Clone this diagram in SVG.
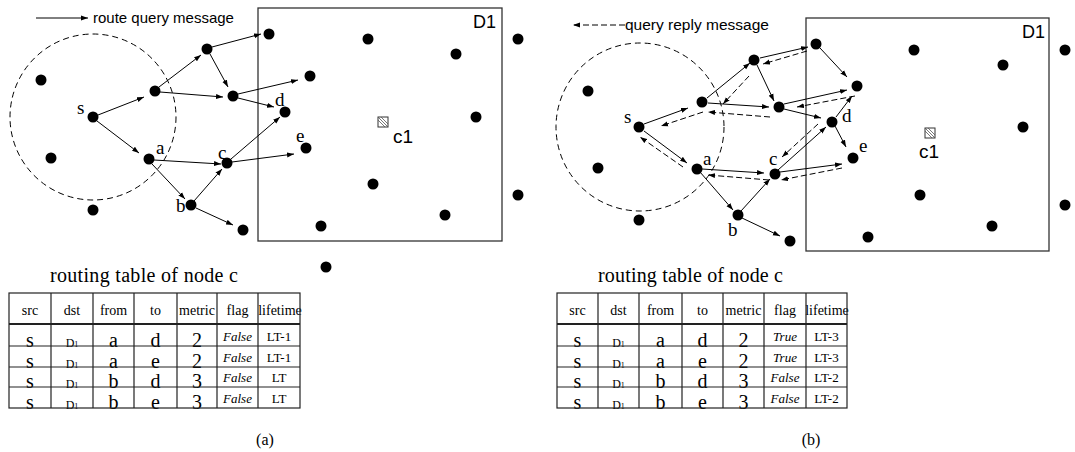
<svg xmlns="http://www.w3.org/2000/svg" width="1075" height="452" viewBox="0 0 1075 452">
<style>
.dot{fill:#000}
.arr{stroke:#000;stroke-width:1;fill:none;marker-end:url(#ah)}
.rep{stroke:#000;stroke-width:1;fill:none;stroke-dasharray:6,3;marker-end:url(#ah)}
.circ{stroke:#000;stroke-width:1;fill:none;stroke-dasharray:6,4}
.box{stroke:#333;stroke-width:1.3;fill:none}
.sans{font-family:"Liberation Sans",Arial,sans-serif;fill:#000}
.ser{font-family:"Liberation Serif","Times New Roman",serif;fill:#000}
.lbl{font-family:"Liberation Serif","Times New Roman",serif;font-size:19px;fill:#000}
.hd{font-family:"Liberation Serif","Times New Roman",serif;font-size:14px;text-anchor:middle;fill:#000}
.big{font-family:"Liberation Serif","Times New Roman",serif;font-size:20px;text-anchor:middle;fill:#000}
.dst{font-family:"Liberation Serif","Times New Roman",serif;font-size:12px;text-anchor:middle;fill:#000}
.it{font-family:"Liberation Serif","Times New Roman",serif;font-size:13px;font-style:italic;text-anchor:middle;fill:#000}
.sm{font-family:"Liberation Serif","Times New Roman",serif;font-size:13px;text-anchor:middle;fill:#000}
.tl{stroke:#222;stroke-width:1.2;fill:none}
</style>
<defs>
<marker id="ah" markerWidth="8" markerHeight="6" refX="7" refY="3" orient="auto" markerUnits="userSpaceOnUse">
<path d="M0,0.5 L7,3 L0,5.5 z" fill="#000"/>
</marker>
</defs>

<!-- ===== Panel (a) ===== -->
<g id="a-legend">
<line class="arr" x1="36" y1="18" x2="88" y2="18"/>
<text class="sans" x="93" y="23" font-size="15">route query message</text>
</g>
<g id="a-range"><circle class="circ" cx="93" cy="117" r="83"/></g>
<g id="a-D1">
<rect class="box" x="258" y="8" width="244" height="233"/>
<text class="sans" x="473" y="28" font-size="18">D1</text>
</g>
<g id="a-c1">
<rect x="378" y="117" width="10" height="10" fill="#fff" stroke="#333" stroke-width="1"/>
<path d="M378,120 L385,127 M378,117 L388,127 M381,117 L388,124" stroke="#555" stroke-width="0.8"/>
<text class="sans" x="393" y="143" font-size="19">c1</text>
</g>
<g id="a-connectors">
<line class="arr" x1="98" y1="115" x2="144" y2="97"/>
<line class="arr" x1="97" y1="121" x2="139" y2="153"/>
<line class="arr" x1="159" y1="87" x2="201" y2="55"/>
<line class="arr" x1="160" y1="92" x2="223" y2="97"/>
<line class="arr" x1="210" y1="54" x2="228" y2="87"/>
<line class="arr" x1="212" y1="47" x2="261" y2="34"/>
<line class="arr" x1="238" y1="94" x2="298" y2="80"/>
<line class="arr" x1="238" y1="98" x2="274" y2="107"/>
<line class="arr" x1="154" y1="160" x2="221" y2="164"/>
<line class="arr" x1="152" y1="164" x2="185" y2="199"/>
<line class="arr" x1="194" y1="201" x2="222" y2="169"/>
<line class="arr" x1="231" y1="159" x2="280" y2="117"/>
<line class="arr" x1="232" y1="162" x2="294" y2="154"/>
<line class="arr" x1="196" y1="208" x2="233" y2="225"/>
</g>
<g id="a-nodes">
<circle class="dot" cx="41" cy="80" r="5.5"/>
<circle class="dot" cx="93" cy="117" r="5.5"/>
<circle class="dot" cx="51" cy="158" r="5.5"/>
<circle class="dot" cx="93" cy="210" r="5.5"/>
<circle class="dot" cx="155" cy="91" r="5.5"/>
<circle class="dot" cx="207" cy="49" r="5.5"/>
<circle class="dot" cx="233" cy="96" r="5.5"/>
<circle class="dot" cx="149" cy="159" r="5.5"/>
<circle class="dot" cx="227" cy="163" r="5.5"/>
<circle class="dot" cx="191" cy="205" r="5.5"/>
<circle class="dot" cx="243" cy="230" r="5.5"/>
<circle class="dot" cx="269" cy="34" r="5.5"/>
<circle class="dot" cx="368" cy="39" r="5.5"/>
<circle class="dot" cx="456" cy="54" r="5.5"/>
<circle class="dot" cx="518" cy="39" r="5.5"/>
<circle class="dot" cx="310" cy="76" r="5.5"/>
<circle class="dot" cx="285" cy="112" r="5.5"/>
<circle class="dot" cx="476" cy="117" r="5.5"/>
<circle class="dot" cx="306" cy="148" r="5.5"/>
<circle class="dot" cx="373" cy="184" r="5.5"/>
<circle class="dot" cx="518" cy="195" r="5.5"/>
<circle class="dot" cx="445" cy="215" r="5.5"/>
<circle class="dot" cx="321" cy="226" r="5.5"/>
<circle class="dot" cx="326" cy="267" r="5.5"/>
</g>
<g id="a-labels">
<text class="lbl" x="77" y="114">s</text>
<text class="lbl" x="156" y="154">a</text>
<text class="lbl" x="218" y="159">c</text>
<text class="lbl" x="176" y="212">b</text>
<text class="lbl" x="275" y="106">d</text>
<text class="lbl" x="296" y="142">e</text>
</g>

<g id="a-table">
<text class="ser" x="50" y="282" font-size="20" textLength="188">routing table of node c</text>
<text class="hd" x="30" y="315">src</text>
<text class="hd" x="72" y="315">dst</text>
<text class="hd" x="113.5" y="315">from</text>
<text class="hd" x="155.5" y="315">to</text>
<text class="hd" x="197" y="315">metric</text>
<text class="hd" x="237.5" y="315">flag</text>
<text class="hd" x="280" y="315">lifetime</text>
<g>
<text class="big" x="30" y="347">s</text><text class="dst" x="72" y="347">D<tspan font-size="8">1</tspan></text><text class="big" x="113.5" y="347">a</text><text class="big" x="155.5" y="347">d</text><text class="big" x="197" y="347">2</text><text class="it" x="237.5" y="341">False</text><text class="sm" x="279" y="341">LT-1</text>
<text class="big" x="30" y="368">s</text><text class="dst" x="72" y="368">D<tspan font-size="8">1</tspan></text><text class="big" x="113.5" y="368">a</text><text class="big" x="155.5" y="368">e</text><text class="big" x="197" y="368">2</text><text class="it" x="237.5" y="362">False</text><text class="sm" x="279" y="362">LT-1</text>
<text class="big" x="30" y="388">s</text><text class="dst" x="72" y="388">D<tspan font-size="8">1</tspan></text><text class="big" x="113.5" y="388">b</text><text class="big" x="155.5" y="388">d</text><text class="big" x="197" y="388">3</text><text class="it" x="237.5" y="382">False</text><text class="sm" x="279" y="382">LT</text>
<text class="big" x="30" y="409">s</text><text class="dst" x="72" y="409">D<tspan font-size="8">1</tspan></text><text class="big" x="113.5" y="409">b</text><text class="big" x="155.5" y="409">e</text><text class="big" x="197" y="409">3</text><text class="it" x="237.5" y="403">False</text><text class="sm" x="279" y="403">LT</text>
</g>
<rect x="9" y="293" width="291" height="115" fill="none" stroke="#222" stroke-width="1.2"/>
<path class="tl" d="M9,346 H300 M9,367 H300 M9,387 H300 M51,293 V408 M93,293 V408 M134,293 V408 M177,293 V408 M217,293 V408 M258,293 V408"/>
<line x1="9" y1="324" x2="300" y2="324" stroke="#222" stroke-width="2.2"/>
<text class="ser" x="265" y="445" font-size="16" text-anchor="middle">(a)</text>
</g>

<!-- ===== Panel (b) ===== -->
<g id="b-legend">
<line class="rep" x1="625" y1="25" x2="573" y2="25"/>
<text class="sans" x="625" y="30" font-size="15.5">query reply message</text>
</g>
<g id="b-range"><circle class="circ" cx="640" cy="127" r="84"/></g>
<g id="b-D1">
<rect class="box" x="806" y="18" width="243" height="233"/>
<text class="sans" x="1022" y="38" font-size="18">D1</text>
</g>
<g id="b-c1">
<rect x="925" y="128" width="10" height="10" fill="#fff" stroke="#333" stroke-width="1"/>
<path d="M925,131 L932,138 M925,128 L935,138 M928,128 L935,135" stroke="#555" stroke-width="0.8"/>
<text class="sans" x="919" y="158" font-size="19">c1</text>
</g>
<g id="b-connectors">
<line class="arr" x1="644" y1="124" x2="688" y2="108"/>
<line class="arr" x1="644" y1="131" x2="687" y2="163"/>
<line class="arr" x1="707" y1="98" x2="750" y2="63"/>
<line class="arr" x1="708" y1="103" x2="769" y2="107"/>
<line class="arr" x1="757" y1="65" x2="774" y2="101"/>
<line class="arr" x1="760" y1="58" x2="808" y2="47"/>
<line class="arr" x1="820" y1="48" x2="847" y2="77"/>
<line class="arr" x1="784" y1="104" x2="847" y2="90"/>
<line class="arr" x1="784" y1="109" x2="821" y2="118"/>
<line class="arr" x1="836" y1="117" x2="852" y2="96"/>
<line class="arr" x1="835" y1="126" x2="846" y2="147"/>
<line class="arr" x1="702" y1="169" x2="764" y2="173"/>
<line class="arr" x1="700" y1="172" x2="733" y2="210"/>
<line class="arr" x1="741" y1="211" x2="770" y2="179"/>
<line class="arr" x1="778" y1="170" x2="826" y2="127"/>
<line class="arr" x1="780" y1="172" x2="842" y2="164"/>
<line class="arr" x1="742" y1="218" x2="780" y2="236"/>
<line class="rep" x1="703" y1="112" x2="661" y2="126"/>
<line class="rep" x1="683" y1="167" x2="640" y2="137"/>
<line class="rep" x1="749" y1="76" x2="723" y2="104"/>
<line class="rep" x1="807" y1="51" x2="763" y2="64"/>
<line class="rep" x1="855" y1="96" x2="797" y2="107"/>
<line class="rep" x1="770" y1="117" x2="708" y2="112"/>
<line class="rep" x1="818" y1="124" x2="782" y2="157"/>
<line class="rep" x1="769" y1="180" x2="708" y2="175"/>
<line class="rep" x1="842" y1="168" x2="781" y2="180"/>
</g>
<g id="b-nodes">
<circle class="dot" cx="588" cy="91" r="5.5"/>
<circle class="dot" cx="639" cy="127" r="5.5"/>
<circle class="dot" cx="598" cy="168" r="5.5"/>
<circle class="dot" cx="639" cy="220" r="5.5"/>
<circle class="dot" cx="702" cy="102" r="5.5"/>
<circle class="dot" cx="754" cy="60" r="5.5"/>
<circle class="dot" cx="779" cy="107" r="5.5"/>
<circle class="dot" cx="697" cy="169" r="5.5"/>
<circle class="dot" cx="775" cy="174" r="5.5"/>
<circle class="dot" cx="738" cy="215" r="5.5"/>
<circle class="dot" cx="790" cy="241" r="5.5"/>
<circle class="dot" cx="816" cy="44" r="5.5"/>
<circle class="dot" cx="857" cy="86" r="5.5"/>
<circle class="dot" cx="832" cy="122" r="5.5"/>
<circle class="dot" cx="853" cy="158" r="5.5"/>
<circle class="dot" cx="868" cy="237" r="5.5"/>
<circle class="dot" cx="914" cy="50" r="5.5"/>
<circle class="dot" cx="1003" cy="65" r="5.5"/>
<circle class="dot" cx="1065" cy="50" r="5.5"/>
<circle class="dot" cx="1023" cy="127" r="5.5"/>
<circle class="dot" cx="920" cy="195" r="5.5"/>
<circle class="dot" cx="1065" cy="205" r="5.5"/>
<circle class="dot" cx="992" cy="226" r="5.5"/>
</g>
<g id="b-labels">
<text class="lbl" x="624" y="123">s</text>
<text class="lbl" x="703" y="165">a</text>
<text class="lbl" x="769" y="165">c</text>
<text class="lbl" x="728" y="236">b</text>
<text class="lbl" x="842" y="122">d</text>
<text class="lbl" x="859" y="152">e</text>
</g>

<g id="b-table">
<text class="ser" x="598" y="282" font-size="20" textLength="185">routing table of node c</text>
<text class="hd" x="577.5" y="315">src</text>
<text class="hd" x="618.5" y="315">dst</text>
<text class="hd" x="660.5" y="315">from</text>
<text class="hd" x="702.5" y="315">to</text>
<text class="hd" x="743.5" y="315">metric</text>
<text class="hd" x="785" y="315">flag</text>
<text class="hd" x="827" y="315">lifetime</text>
<g>
<text class="big" x="577.5" y="347">s</text><text class="dst" x="618.5" y="347">D<tspan font-size="8">1</tspan></text><text class="big" x="660.5" y="347">a</text><text class="big" x="702.5" y="347">d</text><text class="big" x="743.5" y="347">2</text><text class="it" x="785" y="341">True</text><text class="sm" x="826.5" y="341">LT-3</text>
<text class="big" x="577.5" y="368">s</text><text class="dst" x="618.5" y="368">D<tspan font-size="8">1</tspan></text><text class="big" x="660.5" y="368">a</text><text class="big" x="702.5" y="368">e</text><text class="big" x="743.5" y="368">2</text><text class="it" x="785" y="362">True</text><text class="sm" x="826.5" y="362">LT-3</text>
<text class="big" x="577.5" y="388">s</text><text class="dst" x="618.5" y="388">D<tspan font-size="8">1</tspan></text><text class="big" x="660.5" y="388">b</text><text class="big" x="702.5" y="388">d</text><text class="big" x="743.5" y="388">3</text><text class="it" x="785" y="382">False</text><text class="sm" x="826.5" y="382">LT-2</text>
<text class="big" x="577.5" y="409">s</text><text class="dst" x="618.5" y="409">D<tspan font-size="8">1</tspan></text><text class="big" x="660.5" y="409">b</text><text class="big" x="702.5" y="409">e</text><text class="big" x="743.5" y="409">3</text><text class="it" x="785" y="403">False</text><text class="sm" x="826.5" y="403">LT-2</text>
</g>
<rect x="557" y="293" width="290" height="115" fill="none" stroke="#222" stroke-width="1.2"/>
<path class="tl" d="M557,346 H847 M557,367 H847 M557,387 H847 M598,293 V408 M639,293 V408 M682,293 V408 M723,293 V408 M764,293 V408 M806,293 V408"/>
<line x1="557" y1="324" x2="847" y2="324" stroke="#222" stroke-width="2.2"/>
<text class="ser" x="811" y="445" font-size="16" text-anchor="middle">(b)</text>
</g>
</svg>
